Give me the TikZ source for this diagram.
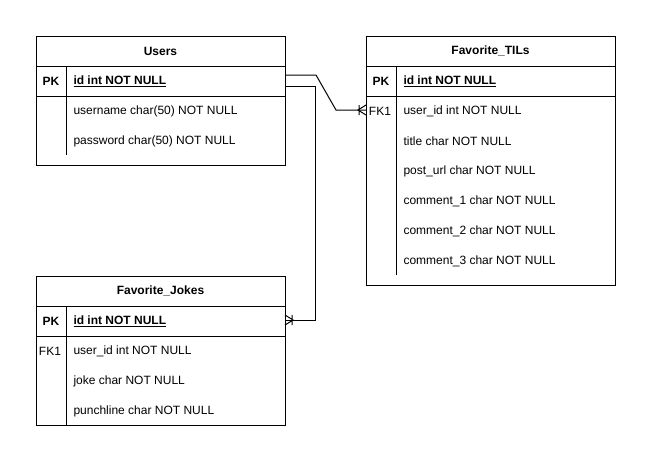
\documentclass[tikz,border=0pt]{standalone}
\usepackage{fontspec}
\setmainfont{Liberation Sans}
\usetikzlibrary{calc}
\tikzset{>=latex}

\begin{document}
\begin{tikzpicture}[x=1pt,y=-1pt,line width=1pt,
    every node/.style={font=\fontsize{12}{14}\selectfont,inner sep=0pt},
    title/.style={font=\fontsize{12}{14}\selectfont\bfseries},
    field/.style={anchor=west},
    keyname/.style={font=\fontsize{12}{14}\selectfont\bfseries}]
      \useasboundingbox (0,0) rectangle (651,461);
      % Users
      \draw (36,36) rectangle (285,165);
      \draw (36,66) -- (285,66) (36,96) -- (285,96) (66,66) -- (66,155);
      \node[title] (users) at (160.5,51) {Users};
      \node[keyname] (usersPK) at (51,81) {PK};
      \node[field,font=\fontsize{12}{14}\selectfont\bfseries] (usersId) at (73,81) {\underline{id int NOT NULL}};
      \node[field] (usersName) at (73,111) {username char(50) NOT NULL};
      \node[field] (usersPass) at (73,141) {password char(50) NOT NULL};
      % Favorite_TILs
      \draw (366,36) rectangle (615,285);
      \draw (366,66) -- (615,66) (366,96) -- (615,96) (396,66) -- (396,275);
      \node[title] (tils) at (490.5,51) {Favorite\_TILs};
      \node[keyname] (tilsPK) at (381,81) {PK};
      \node[field,font=\fontsize{12}{14}\selectfont\bfseries] (tilsId) at (403,81) {\underline{id int NOT NULL}};
      \node (tilsFK) at (380,111) {FK1};
      \node[field] (tilsUser) at (403,111) {user\_id int NOT NULL};
      \node[field] (tilsTitle) at (403,141) {title char NOT NULL};
      \node[field] (tilsUrl) at (403,171) {post\_url char NOT NULL};
      \node[field] (tilsC1) at (403,201) {comment\_1 char NOT NULL};
      \node[field] (tilsC2) at (403,231) {comment\_2 char NOT NULL};
      \node[field] (tilsC3) at (403,261) {comment\_3 char NOT NULL};
      % Favorite_Jokes
      \draw (36,276) rectangle (285,425);
      \draw (36,306) -- (285,306) (36,336) -- (285,336) (66,306) -- (66,425);
      \node[title] (jokes) at (160.5,291) {Favorite\_Jokes};
      \node[keyname] (jokesPK) at (51,321) {PK};
      \node[field,font=\fontsize{12}{14}\selectfont\bfseries] (jokesId) at (73,321) {\underline{id int NOT NULL}};
      \node (jokesFK) at (50,351) {FK1};
      \node[field] (jokesUser) at (73,351) {user\_id int NOT NULL};
      \node[field] (jokesJoke) at (73,381) {joke char NOT NULL};
      \node[field] (jokesPunch) at (73,411) {punchline char NOT NULL};
      % relations
      \coordinate (usersOut1) at (285,75);
      \coordinate (usersOut2) at (285,86);
      \coordinate (tilsIn) at (366,110);
      \coordinate (jokesIn) at (285,320);
      \draw (usersOut1) -- (316,75) -- (336,110) -- (tilsIn);
      \draw (359,105) -- (359,115) (tilsIn) ++(0,-5) -- (358,110) -- ++(8,5);
      \draw (usersOut2) -- (315,86) -- (315,320) -- (jokesIn);
      \draw (292,315) -- (292,325) (jokesIn) ++(0,-5) -- (293,320) -- ++(-8,5);
\end{tikzpicture}
\end{document}
